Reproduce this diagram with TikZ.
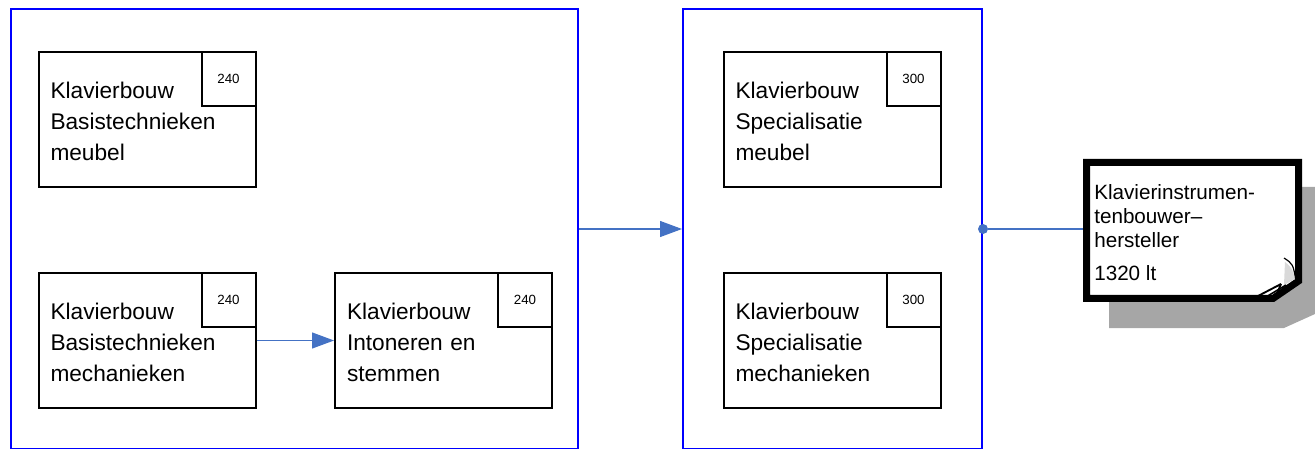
\documentclass[tikz,border=0pt]{standalone}
\usepackage{fontspec}
\setmainfont{Liberation Sans}
\usetikzlibrary{arrows.meta}
\definecolor{frameblue}{RGB}{0,0,255}
\definecolor{arrowblue}{RGB}{68,114,196}
\definecolor{shadowgray}{RGB}{166,166,166}
\tikzset{
  container/.style={draw=frameblue, line width=1.5pt, anchor=north west, inner sep=0pt},
  course/.style={draw=black, line width=1.5pt, anchor=north west, minimum height=101.25pt,
     text width=144.75pt, inner xsep=9pt, inner ysep=0pt, align=left,
     font=\fontsize{17}{23.25}\selectfont, execute at begin node={\rule{0pt}{15.8pt}}},
  credits/.style={draw=black, line width=1.5pt, anchor=north east, minimum size=40.5pt,
     inner sep=0pt, font=\fontsize{10}{12}\selectfont},
  flow/.style={draw=arrowblue, line width=0.9pt, -{Triangle[length=16.5pt,width=12pt]}},
}
\begin{document}
\begin{tikzpicture}[x=0.75pt,y=-0.75pt]
\useasboundingbox (0,0) rectangle (1315,449);
% containers
\node[container, minimum width=425.25pt, minimum height=330pt] (c1) at (10,8) {};
\node[container, minimum width=224.25pt, minimum height=330pt] (c2) at (682,8) {};
% course boxes
\node[course] (b1) at (37.5,51) {Klavierbouw\\Basistechnieken\\meubel};
\node[credits] (n1) at (b1.north east) {240};
\node[course] (b2) at (37.5,272) {Klavierbouw\\Basistechnieken\\mechanieken};
\node[credits] (n2) at (b2.north east) {240};
\node[course] (b3) at (334,272) {Klavierbouw\\Intoneren en\\stemmen};
\node[credits] (n3) at (b3.north east) {240};
\node[course] (b4) at (722.5,51) {Klavierbouw\\Specialisatie\\meubel};
\node[credits] (n4) at (b4.north east) {300};
\node[course] (b5) at (722.5,272) {Klavierbouw\\Specialisatie\\mechanieken};
\node[credits] (n5) at (b5.north east) {300};
% document shape
\fill[shadowgray] (1109,187) -- (1315,187) -- (1315,314) -- (1284,328) -- (1109,328) -- cycle;
\node[anchor=north west, minimum width=164.25pt, minimum height=106.5pt, inner sep=0pt] (doc) at (1083,160) {};
\filldraw[fill=white, draw=black, line width=5.25pt, line join=miter]
  (1086.5,162.5) -- (1298.5,162.5) -- (1298.5,281) -- (1273,298.5) -- (1086.5,298.5) -- cycle;
\fill[gray!30] (1285,262) .. controls (1292,268) .. (1295,279) -- (1284,285) -- cycle;
\draw[line width=0.9pt] (1284,258) .. controls (1293,264) .. (1296,281);
\draw[line width=1.4pt, line join=bevel] (1258,296) -- (1281,284) -- (1276,296);
\draw[line width=1.2pt] (1266,297) -- (1286,285);
\node[anchor=north west, inner sep=0pt, align=left, font=\fontsize{15.5}{18}\selectfont] (doctext) at (1094,184)
  {Klavierinstrumen-\\tenbouwer–\\hersteller\\[6.75pt]1320 lt};
% connectors
\draw[flow] (b2.east) -- (b3.west);
\draw[flow] (c1.east) -- (c2.west);
\node[circle, fill=arrowblue, inner sep=0pt, minimum size=7.5pt] (dot) at (c2.east) {};
\draw[arrowblue, line width=0.9pt] (dot) -- (dot -| doc.west);
\end{tikzpicture}
\end{document}
